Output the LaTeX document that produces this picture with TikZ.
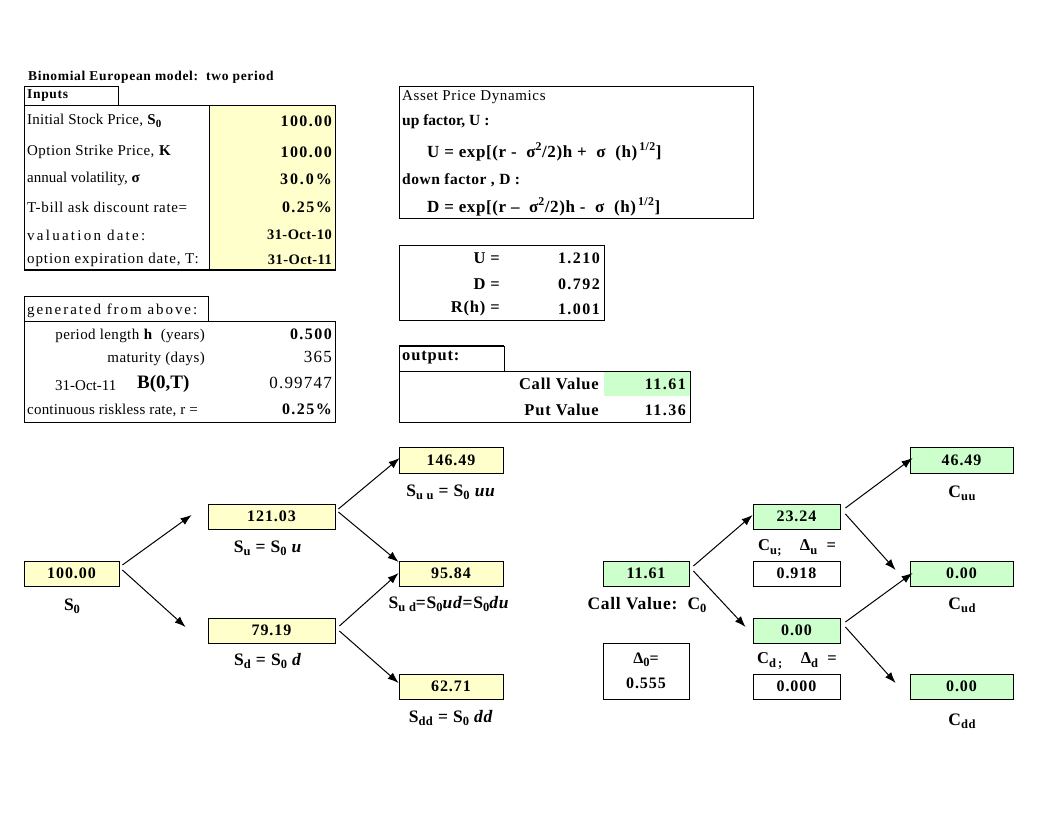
\documentclass[tikz,border=0pt]{standalone}
\usepackage{fontspec}
\setmainfont{Liberation Serif}
\usetikzlibrary{arrows.meta}
\definecolor{ylw}{HTML}{FFFFCC}
\definecolor{grn}{HTML}{CCFFCC}
\newcommand\mysub[1]{\raisebox{-0.4ex}{\fontsize{12.5}{12.5}\selectfont #1}}
\newcommand\mysubs[1]{\raisebox{-0.4ex}{\fontsize{11}{11}\selectfont #1}}
\newcommand\ls[1]{\addfontfeature{LetterSpace=#1}}
\tikzset{
  tx/.style={inner sep=0pt, font=\fontsize{15}{17}\selectfont},
  bx/.style={inner sep=0pt, font=\fontsize{16}{18}\selectfont\bfseries\ls{9}},
  bl/.style={inner sep=0pt, font=\fontsize{16.5}{18}\selectfont\bfseries\ls{5}},
  nv/.style={inner sep=0pt, font=\fontsize{17}{18}\selectfont\ls{7}},
  ttl/.style={inner sep=0pt, font=\fontsize{13.5}{15}\selectfont\bfseries\ls{5}},
  tbl/.style={line width=0.8pt},
  cell/.style={draw, line width=0.8pt, inner sep=0pt, minimum height=25pt,
     font=\fontsize{16}{18}\selectfont\bfseries\ls{6}},
  ycell/.style={cell, fill=ylw},
  gcell/.style={cell, fill=grn},
  wcell/.style={cell, fill=white},
  lbl/.style={inner sep=0pt, font=\fontsize{17.5}{19}\selectfont\bfseries\ls{4}},
  arr/.style={-{Latex[length=11pt,width=8pt]}, line width=1pt},
}
\begin{document}
\begin{tikzpicture}[x=1pt,y=-1pt]
\useasboundingbox (0,0) rectangle (1056,816);
% ---------- Inputs ----------
\node[ttl, anchor=base west] (title) at (28,80) {Binomial European model:\ \ two period};
\draw[tbl] (24,86) rectangle (118,105);
\node[ttl, anchor=west] (inhdr) at (27,96) {Inputs};
\fill[ylw] (209,105) rectangle (335,270);
\draw[tbl] (24,105) rectangle (335,270);
\draw[tbl] (209,105) -- (209,270);
\draw[line width=1.8pt] (24,270) -- (335,270);
\node[tx, anchor=west, font=\fontsize{15}{17}\selectfont\ls{1.5}] (l1) at (27,121) {Initial Stock Price, \textbf{S}\mysubs{\textbf{0}}};
\node[tx, anchor=west, font=\fontsize{15}{17}\selectfont\ls{3}] (l2) at (27,152) {Option Strike Price, \textbf{K}};
\node[tx, anchor=west] (l3) at (27,179) {annual volatility, \textbf{σ}};
\node[tx, anchor=west, font=\fontsize{15}{17}\selectfont\ls{4.5}] (l4) at (27,207) {T-bill ask discount rate=};
\node[tx, anchor=west, font=\fontsize{15}{17}\selectfont\ls{15}] (l5) at (27,235) {valuation date:};
\node[tx, anchor=west, font=\fontsize{15}{17}\selectfont\ls{6}] (l6) at (27,260) {option expiration date, T:};
\node[bx, anchor=east] (v1) at (332,121) {100.00};
\node[bx, anchor=east] (v2) at (332,152) {100.00};
\node[bx, anchor=east, font=\fontsize{16}{18}\selectfont\bfseries\ls{12}] (v3) at (332,179) {30.0\%};
\node[bx, anchor=east] (v4) at (332,207) {0.25\%};
\node[bx, anchor=east, font=\fontsize{14.5}{16}\selectfont\bfseries\ls{3}] (v5) at (332,235) {31-Oct-10};
\node[bx, anchor=east, font=\fontsize{14.5}{16}\selectfont\bfseries\ls{3}] (v6) at (332,260) {31-Oct-11};
% ---------- generated ----------
\draw[tbl] (24,296) rectangle (208,321);
\node[tx, anchor=west, font=\fontsize{15}{17}\selectfont\ls{13}] (ghdr) at (27,311) {generated from above:};
\draw[tbl] (24,321) rectangle (335,422);
\node[tx, anchor=east, font=\fontsize{15}{17}\selectfont\ls{2.6}] (g1) at (205,336) {period length \textbf{h}\ \ (years)};
\node[tx, anchor=east, font=\fontsize{15}{17}\selectfont\ls{2.7}] (g2) at (205,359) {maturity (days)};
\node[tx, anchor=west] (g3a) at (55,386) {31-Oct-11};
\node[bl, anchor=west, font=\fontsize{19}{20}\selectfont\bfseries] (g3b) at (137,384) {B(0,T)};
\node[tx, anchor=west, font=\fontsize{15}{17}\selectfont\ls{1.4}] (g4) at (27,410) {continuous riskless rate, r =};
\node[bx, anchor=east] (gv1) at (332,334) {0.500};
\node[nv, anchor=east] (gv2) at (332,357) {365};
\node[nv, anchor=east] (gv3) at (332,383) {0.99747};
\node[bx, anchor=east] (gv4) at (332,409) {0.25\%};
% ---------- Asset Price Dynamics ----------
\draw[tbl] (399,86) rectangle (753,218);
\node[tx, anchor=west, font=\fontsize{15}{17}\selectfont\ls{4.3}] (a0) at (402,97) {Asset Price Dynamics};
\node[bl, anchor=west, font=\fontsize{15.5}{17}\selectfont\bfseries] (a1) at (402,122) {up factor, U :};
\node[bl, anchor=west, font=\fontsize{17}{19}\selectfont\bfseries\ls{3.5}] (a2) at (427,152) {U = exp[(r -\ \ σ\textsuperscript{2}/2)h + \ σ\ \ (h)\textsuperscript{\,1/2}]};
\node[bl, anchor=west, font=\fontsize{15.5}{17}\selectfont\bfseries\ls{3.4}] (a3) at (402,180) {down factor , D :};
\node[bl, anchor=west, font=\fontsize{17}{19}\selectfont\bfseries\ls{3.5}] (a4) at (427,207) {D = exp[(r –\ \ σ\textsuperscript{2}/2)h - \ σ\ \ (h)\textsuperscript{\,1/2}]};
% ---------- U D R ----------
\draw[tbl] (399,245) rectangle (604,320);
\node[bl, anchor=east] (u1) at (500,258) {U =};
\node[bl, anchor=east] (u2) at (500,284) {D =};
\node[bl, anchor=east] (u3) at (500,309) {R(h) =};
\node[bx, anchor=east] (uv1) at (600,258) {1.210};
\node[bx, anchor=east] (uv2) at (600,284) {0.792};
\node[bx, anchor=east] (uv3) at (600,309) {1.001};
% ---------- output ----------
\draw[tbl] (399,346) rectangle (504,371);
\draw[line width=1.6pt] (399,346) -- (504,346);
\node[bl, anchor=west] (ohdr) at (402,358) {output:};
\fill[grn] (604,372) rectangle (690,396);
\draw[tbl] (399,371) rectangle (690,422);
\node[bl, anchor=east] (o1) at (599,384) {Call Value};
\node[bl, anchor=east] (o2) at (599,410) {Put Value};
\node[bx, anchor=east] (ov1) at (686,384) {11.61};
\node[bx, anchor=east] (ov2) at (686,410) {11.36};
% ---------- stock tree ----------
\node[ycell, minimum width=95pt] (s0) at (71.5,573.5) {100.00};
\node[ycell, minimum width=127pt] (su) at (271.5,516.5) {121.03};
\node[ycell, minimum width=127pt] (sd) at (271.5,630.5) {79.19};
\node[ycell, minimum width=104pt, minimum height=26pt] (suu) at (451,460) {146.49};
\node[ycell, minimum width=104pt] (sud) at (451,573.5) {95.84};
\node[ycell, minimum width=104pt] (sdd) at (451,686.5) {62.71};
\node[lbl] (ls0) at (72,606) {S\mysub{0}};
\node[lbl] (lsu) at (268,548) {S\mysub{u} = S\mysub{0} \textit{u}};
\node[lbl] (lsd) at (268,661) {S\mysub{d} = S\mysub{0} \textit{d}};
\node[lbl] (lsuu) at (451,492) {S\mysub{u u} = S\mysub{0} \textit{uu}};
\node[lbl] (lsud) at (449,604) {S\mysub{u d}=S\mysub{0}\textit{ud}=S\mysub{0}\textit{du}};
\node[lbl] (lsdd) at (451,718) {S\mysub{dd} = S\mysub{0} \textit{dd}};
\draw[arr] ([shift={(3,-8.5)}]s0.east) -- ([shift={(-16,-1.5)}]su.west);
\draw[arr] ([shift={(3,-3.5)}]s0.east) -- ([shift={(-22,-3.5)}]sd.west);
\draw[arr] ([shift={(3,-7.5)}]su.east) -- ([shift={(1,-2)}]suu.west);
\draw[arr] ([shift={(3,-4.5)}]su.east) -- ([shift={(0,-11.5)}]sud.west);
\draw[arr] ([shift={(4,-4.5)}]sd.east) -- ([shift={(0,-0.5)}]sud.west);
\draw[arr] ([shift={(4,0.5)}]sd.east) -- ([shift={(0,-3.5)}]sdd.west);
% ---------- option tree ----------
\node[gcell, minimum width=86pt] (c0) at (646,573.5) {11.61};
\node[cell, minimum width=86pt, minimum height=56pt, align=center,
      font=\fontsize{16}{25}\selectfont\bfseries\ls{6}] (d0) at (646,671) {Δ\mysub{0}=\\0.555};
\node[gcell, minimum width=87pt] (cu) at (796.5,516.5) {23.24};
\node[wcell, minimum width=87pt] (cuv) at (796.5,573.5) {0.918};
\node[gcell, minimum width=87pt] (cd) at (796.5,630.5) {0.00};
\node[wcell, minimum width=87pt] (cdv) at (796.5,686.5) {0.000};
\node[gcell, minimum width=103pt, minimum height=26pt] (cuu) at (961.5,460) {46.49};
\node[gcell, minimum width=103pt] (cud) at (961.5,573.5) {0.00};
\node[gcell, minimum width=103pt] (cdd) at (961.5,686.5) {0.00};
\node[lbl] (lc0) at (647,605) {Call Value:\ \ C\mysub{0}};
\node[lbl, font=\fontsize{16.5}{18}\selectfont\bfseries\ls{3}] (lcu) at (797,548) {C\mysub{u;}\ \ \ \ Δ\mysub{u}\ \ =};
\node[lbl, font=\fontsize{16.5}{18}\selectfont\bfseries\ls{3}] (lcd) at (797,661) {C\mysub{d\,;}\ \ \ \ Δ\mysub{d}\ \ =};
\node[lbl] (lcuu) at (962,493) {C\mysub{uu}};
\node[lbl] (lcud) at (962,605) {C\mysub{ud}};
\node[lbl] (lcdd) at (962,721) {C\mysub{dd}};
\draw[arr] ([shift={(4,-7.5)}]c0.east) -- ([shift={(0,-1.5)}]cu.west);
\draw[arr] ([shift={(4,-2.5)}]c0.east) -- ([shift={(-7,-3.5)}]cd.west);
\draw[arr] ([shift={(5,-8.5)}]cu.east) -- ([shift={(3,-2)}]cuu.west);
\draw[arr] ([shift={(5,-2.5)}]cu.east) -- ([shift={(-14,-3.5)}]cud.west);
\draw[arr] ([shift={(5,-8.5)}]cd.east) -- ([shift={(3,-0.5)}]cud.west);
\draw[arr] ([shift={(5,-3.5)}]cd.east) -- ([shift={(-14,-3.5)}]cdd.west);
% thicker bottom edges
\foreach \n in {s0,su,sd,suu,sud,sdd,c0,d0,cu,cuv,cd,cdv,cuu,cud,cdd}
  \draw[line width=1.6pt] (\n.south west) -- (\n.south east);
\end{tikzpicture}
\end{document}
